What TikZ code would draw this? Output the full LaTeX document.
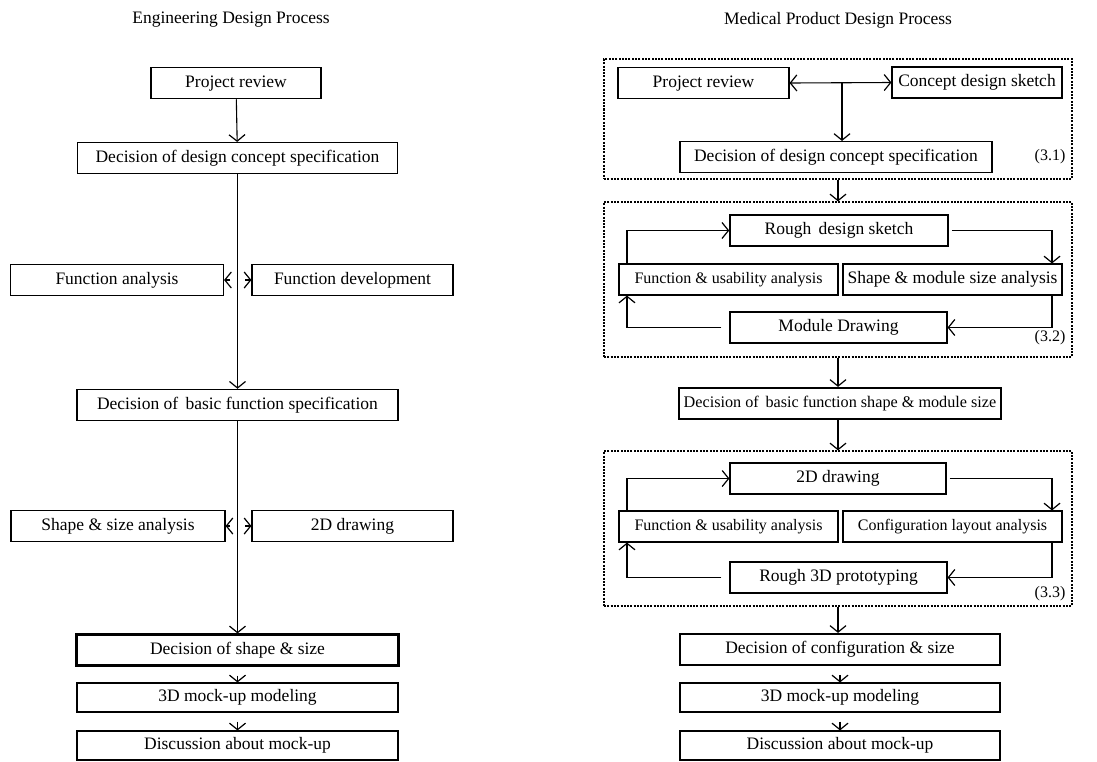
\documentclass[tikz,border=0pt]{standalone}
\usepackage{fontspec}
\setmainfont{Liberation Serif}
\usetikzlibrary{arrows.meta}
\tikzset{
  tipb/.tip={Straight Barb[length=6.5pt,width=16pt,line width=1.2pt]},
  arr/.style={-tipb, line width=1.1pt},
  dbl/.style={tipb-tipb, line width=1.1pt},
  box/.style={draw, line width=1.1pt, minimum height=31pt, inner sep=0pt, text height=12pt, text depth=3.5pt, font=\fontsize{17.5}{20}\selectfont},
  thickbox/.style={box, line width=2.2pt},
  smallfont/.style={font=\fontsize{16}{19}\selectfont},
  grp/.style={draw, line width=1.2pt, dash pattern=on 2pt off 1.3pt, inner sep=0pt},
  ttl/.style={font=\fontsize{17.5}{20}\selectfont, inner sep=0pt},
  lbl/.style={font=\fontsize{16}{18}\selectfont, inner sep=0pt}
}
\begin{document}
\begin{tikzpicture}[x=1pt,y=-1pt]
\useasboundingbox (0,0) rectangle (1097,761);
% ---------- left column ----------
\node[ttl] (t1) at (231,20) {Engineering Design Process};
\node[box, line width=1.5pt, minimum width=170pt] (lpr) at (236,83) {Project review};
\node[box, minimum width=320pt] (ldc) at (237.5,158) {Decision of design concept specification};
\node[box, minimum width=213pt] (lfa) at (117,280) {Function analysis};
\node[box, minimum width=201pt] (lfd) at (352.5,280) {Function development};
\node[box, line width=1.5pt, minimum width=321pt] (lbf) at (237.5,405) {Decision of\, basic function specification};
\node[box, minimum width=214pt] (lsa) at (118,526) {Shape \& size analysis};
\node[box, minimum width=201pt] (l2d) at (352.5,526) {2D drawing};
\node[thickbox, minimum width=322pt] (lds) at (237.5,650) {Decision of shape \& size};
\node[box, minimum width=321pt, minimum height=29pt] (lmu) at (237.5,697.5) {3D mock-up modeling};
\node[box, minimum width=321pt, minimum height=29pt] (ldi) at (237.5,745.5) {Discussion about mock-up};
\coordinate (j1) at (237.5,280);
\coordinate (j3) at (237.5,526);
\draw[arr] (lpr) -- (ldc);
\draw[-tipb, line width=1.7pt] (ldc) -- (lbf);
\draw[arr, shorten <=7.5pt] (j1) -- (lfa.east);
\draw[arr, shorten <=7.5pt] (j1) -- (lfd.west);
\draw[-tipb, line width=1.7pt] (lbf) -- (lds);
\draw[arr, shorten <=7.5pt] (j3) -- (lsa.east);
\draw[arr, shorten <=7.5pt] (j3) -- (l2d.west);
\draw[arr, shorten <=9pt] (lds) -- (lmu);
\draw[arr, shorten <=9pt] (lmu) -- (ldi);
% ---------- right column ----------
\node[ttl] (t2) at (838,20) {Medical Product Design Process};
% group 3.1
\node[grp, minimum width=468pt, minimum height=120pt] (g1) at (838,119) {};
\node[box, minimum width=171pt] (rpr) at (703.5,83) {Project review};
\node[box, minimum width=170pt] (rcs) at (977,82.5) {Concept design sketch};
\node[box, minimum width=312pt] (rdc) at (836,157) {Decision of design concept specification};
\node[lbl] (l31) at (1050,157) {(3.1)};
\coordinate (j2) at (842,83);
\draw[dbl] (rpr.east) -- (rcs.west);
\draw[arr] (j2) -- (j2 |- rdc.north);
% group 3.2
\node[grp, minimum width=468pt, minimum height=155pt] (g2) at (838,279.5) {};
\node[box, line width=1.5pt, minimum width=218pt] (rrs) at (839,230.5) {Rough\, design sketch};
\node[box, smallfont, minimum width=219pt] (rfu) at (728.5,279.5) {Function \& usability analysis};
\node[box, minimum width=219pt] (rsm) at (952.5,279.5) {Shape \& module size analysis};
\node[box, minimum width=217pt] (rmd) at (838.5,327.5) {Module Drawing};
\node[lbl] (l32) at (1050,338) {(3.2)};
\coordinate (lx) at (627,0);
\coordinate (rx) at (1052,0);
\draw[arr] (rfu.north -| lx) |- (rrs.west);
\draw[arr] ([xshift=3pt]rrs.east) -| (rsm.north -| rx);
\draw[arr] (rsm.south -| rx) |- (rmd.east);
\draw[arr] ([xshift=-8pt]rmd.west) -| (rfu.south -| lx);
\draw[arr] (g1.south) -- (g2.north);
% basic function decision
\node[thickbox, font=\fontsize{16.2}{19}\selectfont, minimum width=322pt] (rbf) at (840,403.5) {Decision of\, basic function shape \& module size};
\draw[arr] (g2.south) -- (g2.south |- rbf.north);
% group 3.3
\node[grp, minimum width=468pt, minimum height=155pt] (g3) at (838,528.5) {};
\node[box, minimum width=216pt] (r2d) at (838,478.5) {2D drawing};
\node[box, smallfont, minimum width=219pt] (rfu2) at (728.5,526.5) {Function \& usability analysis};
\node[box, smallfont, minimum width=219pt] (rcl) at (952.5,526.5) {Configuration layout analysis};
\node[box, minimum width=217pt] (rrp) at (838.5,577.5) {Rough 3D prototyping};
\node[lbl] (l33) at (1050,594) {(3.3)};
\draw[arr] (rfu2.north -| lx) |- (r2d.west);
\draw[arr] ([xshift=3pt]r2d.east) -| (rcl.north -| rx);
\draw[arr] (rcl.south -| rx) |- (rrp.east);
\draw[arr] ([xshift=-8pt]rrp.west) -| (rfu2.south -| lx);
\draw[arr] (rbf.south -| g3.north) -- (g3.north);
% final steps
\node[thickbox, minimum width=320pt] (rdcs) at (840,649.5) {Decision of configuration \& size};
\node[box, minimum width=320pt, minimum height=29pt] (rmu) at (840,697.5) {3D mock-up modeling};
\node[box, minimum width=320pt, minimum height=29pt] (rdi) at (840,745.5) {Discussion about mock-up};
\draw[arr] (g3.south) -- (g3.south |- rdcs.north);
\draw[arr, shorten <=9pt] (rdcs) -- (rmu);
\draw[arr, shorten <=9pt] (rmu) -- (rdi);
\end{tikzpicture}
\end{document}
